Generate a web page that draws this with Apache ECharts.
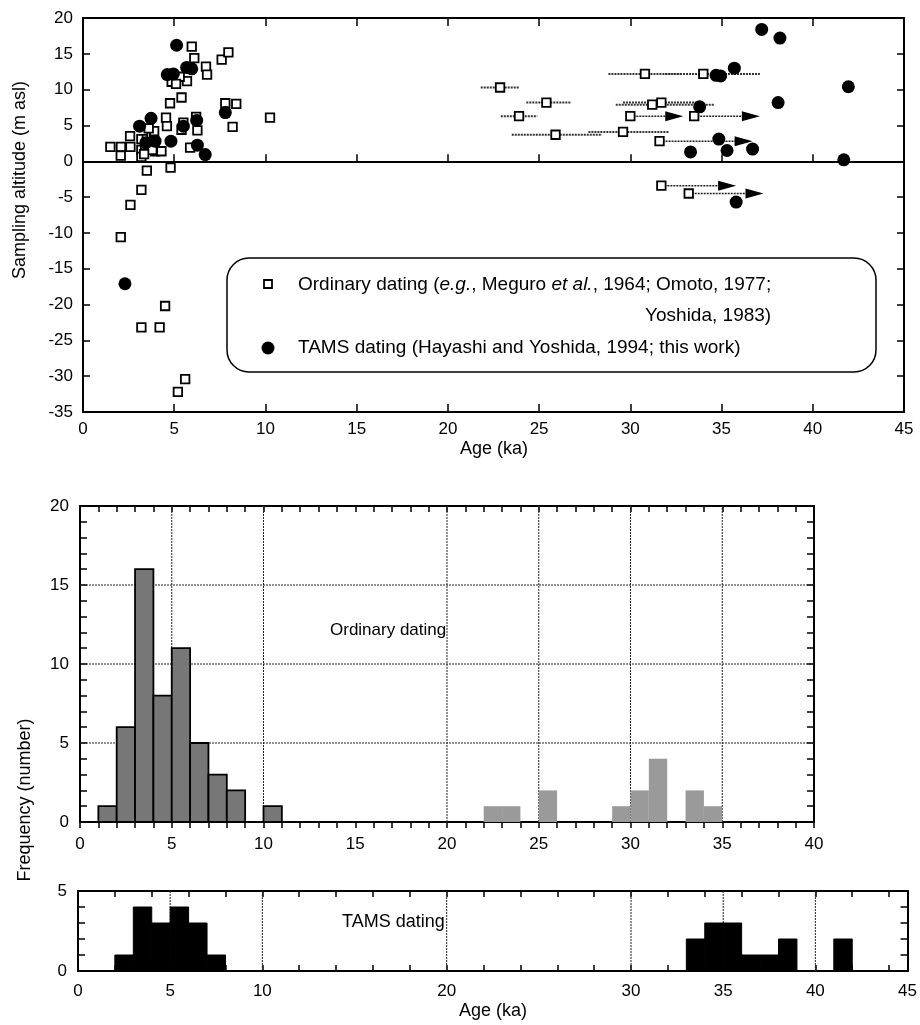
<!DOCTYPE html>
<html><head><meta charset="utf-8">
<script src="https://cdn.jsdelivr.net/npm/echarts@6/dist/echarts.min.js"></script>
<style>html,body{margin:0;padding:0;background:#fff}#c{width:920px;height:1025px}</style>
</head><body><div id="c"></div>
<script>
const FONT = '"Liberation Sans", Arial, Helvetica, sans-serif';

// ---------- Top panel: sampling altitude vs age ----------
const ordinaryAge = [1.5,2.08,2.07,2.6,2.58,2.6,2.07,
  3.2,3.5,3.76,3.9,3.2,3.2,3.67,3.5,3.2,3.2,3.9,3.95,3.4,3.6,3.8,3.35,
  4.3,4.55,4.6,4.77,4.86,4.8,4.5,4.2,
  5.96,5.4,5.7,5.4,5.87,5.6,5.2,5.3,5.5,5.8,5.1,
  6.1,6.74,6.8,6.2,6.27, 7.6,7.97,7.8, 8.4,8.2, 10.25,
  22.86,25.4,23.9,25.9,29.6,30.8,34.0,31.2,31.7,30.0,33.5,31.6,31.7,33.2];
const ordinaryAlt = [2.0,2.0,0.8,2.0,3.5,-6.1,-10.6,
  3.1,3.1,3.8,2.8,1.6,0.6,1.9,-1.3,-4.0,-23.2,4.2,1.4,2.3,4.6,1.6,1.0,
  1.4,6.1,4.9,8.1,11.1,-0.9,-20.2,-23.2,
  16.0,8.9,11.2,4.4,1.9,-30.4,-32.2,11.8,5.4,13.0,10.8,
  14.4,13.2,12.1,6.2,4.3, 14.2,15.2,8.1, 8.0,4.8, 6.1,
  10.3,8.2,6.3,3.7,4.1,12.2,12.2,7.9,8.2,6.3,6.3,2.8,-3.4,-4.5];

// age ranges (horizontal error bars) of ordinary dates
const rangeAge = [22.86,25.4,23.9,25.9,29.6,30.8,34.0,31.2,31.7];
const rangeAlt = [10.3,8.2,6.3,3.7,4.1,12.2,12.2,7.9,8.2];
const rangeLo  = [21.8,24.3,22.9,23.5,27.7,28.8,31.9,29.2,29.6];
const rangeHi  = [23.9,26.75,24.9,28.45,32.1,32.8,37.1,34.6,34.0];

// lower-limit ages (arrows) of ordinary dates
const limitAge = [30.0,33.5,31.6,31.7,33.2];
const limitAlt = [6.3,6.3,2.8,-3.4,-4.5];
const limitEnd = [32.9,37.1,36.7,35.8,37.3];

const tamsAge = [2.3,3.73,3.1,3.95,3.45,4.62,4.82,4.95,5.13,5.68,5.96,5.5,6.23,6.27,6.7,7.8,
  37.2,38.2,35.7,34.95,34.7,41.95,38.1,33.8,34.85,33.3,35.3,36.7,41.7,35.8];
const tamsAlt = [-17.1,6.0,4.9,2.8,2.6,12.1,2.8,12.2,16.2,13.1,12.9,4.9,5.7,2.25,0.94,6.8,
  18.4,17.2,13.0,11.9,12.0,10.4,8.2,7.6,3.1,1.3,1.5,1.7,0.2,-5.7];

const topXTicks = [0,5,10,15,20,25,30,35,40,45];
const topYTicks = [20,15,10,5,0,-5,-10,-15,-20,-25,-30,-35];

// ---------- Histograms (bin i = [i, i+1) ka) ----------
const ordinaryCounts = [0,1,6,16,8,11,5,3,2,0, 1,0,0,0,0,0,0,0,0,0,
                        0,0,1,1,0,2,0,0,0,1, 2,4,0,2,1,0,0,0,0,0];
const tamsCounts = [0,0,1,4,3,4,3,1,0,0, 0,0,0,0,0,0,0,0,0,0,
                    0,0,0,0,0,0,0,0,0,0, 0,0,0,2,3,3,1,1,2,0, 0,2,0,0,0];
const midXLabels = [0,5,10,15,20,25,30,35,40];
const midYLabels = [0,5,10,15,20];
const midGridX = [5,10,20,25,30,35];
const midGridY = [5,10,15];
const botXLabels = [0,5,10,20,30,35,40,45];
const botYLabels = [0,5];
const botGridX = [5,10,20,30,35,40];

// ---------- helpers ----------
function range(a,b,s){const r=[];for(let v=a;v<=b+1e-9;v+=s)r.push(v);return r;}
const lineS = {color:'#000', width:2};
const tickS = {color:'#000', width:1.5};
const lab = (m)=>({show:true, color:'#000', fontSize:17, fontFamily:FONT, margin:m});

function xAx(grid, pos, min, max, opt){
  return Object.assign({type:'value', gridIndex:grid, position:pos, min:min, max:max,
    axisLine:{show:true, onZero:false, lineStyle:lineS},
    axisTick:{show:true, inside:true, length:7, lineStyle:tickS},
    axisLabel:{show:false}, splitLine:{show:false}}, opt||{});
}
function yAx(grid, pos, min, max, opt){
  return Object.assign({type:'value', gridIndex:grid, position:pos, min:min, max:max,
    axisLine:{show:true, onZero:false, lineStyle:lineS},
    axisTick:{show:true, inside:true, length:7, lineStyle:tickS},
    axisLabel:{show:false}, splitLine:{show:false}}, opt||{});
}

function histItem(params, api, fill, stroke, lw){
  const a = api.value(0), c = api.value(1);
  const p0 = api.coord([a, c]), p1 = api.coord([a+1, 0]);
  return {type:'rect', shape:{x:p0[0], y:p0[1], width:p1[0]-p0[0], height:p1[1]-p0[1]},
    style:{fill:fill, stroke:stroke, lineWidth:lw}};
}
const gridLineStyle = {stroke:'#222', lineWidth:1, lineDash:[2,1]};
function vline(params, api){
  const p0 = api.coord([api.value(0), api.value(1)]), p1 = api.coord([api.value(0), api.value(2)]);
  return {type:'line', shape:{x1:p0[0],y1:p0[1],x2:p1[0],y2:p1[1]}, style:gridLineStyle};
}
function hline(params, api){
  const p0 = api.coord([api.value(1), api.value(0)]), p1 = api.coord([api.value(2), api.value(0)]);
  return {type:'line', shape:{x1:p0[0],y1:p0[1],x2:p1[0],y2:p1[1]}, style:gridLineStyle};
}

const ordinaryHist = ordinaryCounts.map((c,i)=>[i,c]).filter(d=>d[1]>0);
const tamsHist = tamsCounts.map((c,i)=>[i,c]).filter(d=>d[1]>0);

// legend text layout: right-align second line with the end of the first line
const LFS = 19;
const mctx = document.createElement('canvas').getContext('2d');
mctx.font = LFS + 'px ' + FONT;
const w1 = mctx.measureText('Ordinary dating (, Meguro , 1964; Omoto, 1977;').width;
mctx.font = 'italic ' + LFS + 'px ' + FONT;
const w2 = mctx.measureText('e.g.et al.').width;
const legendTextX = 298;
const line1End = legendTextX + w1 + w2;

const option = {
  animation:false,
  backgroundColor:'#fff',
  grid:[
    {left:83, top:18, width:821, height:394},
    {left:80, top:506, width:734, height:316},
    {left:78, top:891, width:830, height:80}
  ],
  xAxis:[
    xAx(0,'bottom',0,45,{interval:5, axisLabel:lab(9), axisTick:{show:true,inside:true,length:8,lineStyle:tickS,customValues:topXTicks}}),
    xAx(0,'top',0,45,{interval:5, axisTick:{show:true,inside:true,length:8,lineStyle:tickS,customValues:topXTicks}}),
    xAx(0,'bottom',0,45,{interval:5, axisLine:{show:true,onZero:true,onZeroAxisIndex:0,lineStyle:lineS},
        axisTick:{show:true,inside:true,length:7,lineStyle:tickS,customValues:topXTicks}}),
    xAx(1,'bottom',0,40,{interval:5, axisLabel:Object.assign(lab(14),{customValues:midXLabels}),
        axisTick:{show:true,inside:false,length:6,lineStyle:tickS,customValues:range(0,40,1)}}),
    xAx(1,'top',0,40,{interval:5, axisTick:{show:true,inside:true,length:6,lineStyle:tickS,customValues:range(0,40,1)}}),
    xAx(2,'bottom',0,45,{interval:5, axisLabel:Object.assign(lab(12),{customValues:botXLabels}),
        axisTick:{show:true,inside:true,length:6,lineStyle:tickS,customValues:range(0,44,2)}}),
    xAx(2,'top',0,45,{interval:5, axisTick:{show:true,inside:true,length:6,lineStyle:tickS,customValues:range(0,44,2)}})
  ],
  yAxis:[
    yAx(0,'left',-35,20,{interval:5, axisLabel:Object.assign(lab(10),{customValues:topYTicks}),
        axisTick:{show:true,inside:true,length:7,lineStyle:tickS,customValues:topYTicks}}),
    yAx(0,'right',-35,20,{interval:5, axisTick:{show:true,inside:true,length:7,lineStyle:tickS,customValues:topYTicks}}),
    yAx(1,'left',0,20,{interval:5, axisLabel:Object.assign(lab(11),{customValues:midYLabels}),
        axisTick:{show:true,inside:true,length:7,lineStyle:tickS,customValues:range(0,20,1)}}),
    yAx(1,'right',0,20,{interval:5, axisTick:{show:true,inside:true,length:7,lineStyle:tickS,customValues:range(0,20,1)}}),
    yAx(2,'left',0,5,{interval:5, axisLabel:Object.assign(lab(11),{customValues:botYLabels}),
        axisTick:{show:true,inside:true,length:7,lineStyle:tickS,customValues:range(0,5,1)}}),
    yAx(2,'right',0,5,{interval:5, axisTick:{show:true,inside:true,length:7,lineStyle:tickS,customValues:range(0,5,1)}})
  ],
  series:[
    {type:'custom', xAxisIndex:0, yAxisIndex:0, z:2,
      data: rangeAge.map((a,i)=>[a, rangeAlt[i], rangeLo[i], rangeHi[i]]),
      encode:{x:[0,2,3], y:1},
      renderItem:(params, api)=>{
        const p1 = api.coord([api.value(2), api.value(1)]);
        const p2 = api.coord([api.value(3), api.value(1)]);
        return {type:'line', shape:{x1:p1[0],y1:p1[1],x2:p2[0],y2:p2[1]},
          style:{stroke:'#333', lineWidth:2, lineDash:[2,1]}};
      }},
    {type:'custom', xAxisIndex:0, yAxisIndex:0, z:2,
      data: limitAge.map((a,i)=>[a, limitAlt[i], limitEnd[i]]),
      encode:{x:[0,2], y:1},
      renderItem:(params, api)=>{
        const p1 = api.coord([api.value(0), api.value(1)]);
        const p2 = api.coord([api.value(2), api.value(1)]);
        const hl = 18, hw = 5;
        return {type:'group', children:[
          {type:'line', shape:{x1:p1[0],y1:p1[1],x2:p2[0]-hl+2,y2:p2[1]},
            style:{stroke:'#222', lineWidth:1.5, lineDash:[2,1]}},
          {type:'polygon', shape:{points:[[p2[0],p2[1]],[p2[0]-hl,p2[1]-hw],[p2[0]-hl,p2[1]+hw]]},
            style:{fill:'#000'}}
        ]};
      }},
    {type:'scatter', xAxisIndex:0, yAxisIndex:0, z:3,
      data: ordinaryAge.map((a,i)=>[a, ordinaryAlt[i]]),
      symbol:'rect', symbolSize:8.5,
      itemStyle:{color:'#fff', borderColor:'#000', borderWidth:1.8, opacity:1}},
    {type:'scatter', xAxisIndex:0, yAxisIndex:0, z:4,
      data: tamsAge.map((a,i)=>[a, tamsAlt[i]]),
      symbol:'circle', symbolSize:13,
      itemStyle:{color:'#000', opacity:1}},
    {type:'custom', xAxisIndex:3, yAxisIndex:2, z:1,
      data: midGridX.map(x=>[x,0,20]), encode:{x:0,y:[1,2]}, renderItem:vline},
    {type:'custom', xAxisIndex:3, yAxisIndex:2, z:1,
      data: midGridY.map(y=>[y,0,40]), encode:{y:0,x:[1,2]}, renderItem:hline},
    {type:'custom', xAxisIndex:3, yAxisIndex:2, z:2,
      data: ordinaryHist, encode:{x:0,y:1},
      renderItem:(p,api)=> api.value(0) < 20 ? histItem(p,api,'#777','#000',1.8) : histItem(p,api,'#9a9a9a',null,0)},
    {type:'custom', xAxisIndex:5, yAxisIndex:4, z:1,
      data: botGridX.map(x=>[x,0,5]), encode:{x:0,y:[1,2]}, renderItem:vline},
    {type:'custom', xAxisIndex:5, yAxisIndex:4, z:2,
      data: tamsHist, encode:{x:0,y:1},
      renderItem:(p,api)=> histItem(p,api,'#000','#000',1)}
  ],
  graphic:[
    {type:'rect', shape:{x:227, y:258, width:649, height:114, r:22}, z:10,
      style:{fill:'#fff', stroke:'#000', lineWidth:1.5}},
    {type:'rect', shape:{x:264, y:280, width:8, height:8}, z:11,
      style:{fill:'#fff', stroke:'#000', lineWidth:1.8}},
    {type:'circle', shape:{cx:268, cy:348, r:6.5}, z:11, style:{fill:'#000'}},
    {type:'text', x:legendTextX, y:285, z:11, style:{
      text:'Ordinary dating ({i|e.g.}, Meguro {i|et al.}, 1964; Omoto, 1977;',
      rich:{i:{fontStyle:'italic', fontSize:LFS, fontFamily:FONT, fill:'#000'}},
      fontSize:LFS, fontFamily:FONT, fill:'#000', verticalAlign:'middle', textVerticalAlign:'middle'}},
    {type:'text', x:line1End, y:316, z:11, style:{text:'Yoshida, 1983)', fontSize:LFS, fontFamily:FONT, fill:'#000',
      align:'right', textAlign:'right', verticalAlign:'middle', textVerticalAlign:'middle'}},
    {type:'text', x:legendTextX, y:348, z:11, style:{text:'TAMS dating (Hayashi and Yoshida, 1994; this work)',
      fontSize:LFS, fontFamily:FONT, fill:'#000', verticalAlign:'middle', textVerticalAlign:'middle'}},
    {type:'text', x:20, y:180, rotation:Math.PI/2, style:{text:'Sampling altitude (m asl)', fontSize:18, fontFamily:FONT,
      fill:'#000', align:'center', textAlign:'center', verticalAlign:'middle', textVerticalAlign:'middle'}},
    {type:'text', x:494, y:449, style:{text:'Age (ka)', fontSize:18, fontFamily:FONT,
      fill:'#000', align:'center', textAlign:'center', verticalAlign:'middle', textVerticalAlign:'middle'}},
    {type:'text', x:330, y:630, style:{text:'Ordinary dating', fontSize:17, fontFamily:FONT,
      fill:'#000', verticalAlign:'middle', textVerticalAlign:'middle'}},
    {type:'text', x:25, y:800, rotation:Math.PI/2, style:{text:'Frequency (number)', fontSize:18, fontFamily:FONT,
      fill:'#000', align:'center', textAlign:'center', verticalAlign:'middle', textVerticalAlign:'middle'}},
    {type:'text', x:342, y:922, style:{text:'TAMS dating', fontSize:18, fontFamily:FONT,
      fill:'#000', verticalAlign:'middle', textVerticalAlign:'middle'}},
    {type:'text', x:493, y:1011, style:{text:'Age (ka)', fontSize:18, fontFamily:FONT,
      fill:'#000', align:'center', textAlign:'center', verticalAlign:'middle', textVerticalAlign:'middle'}}
  ]
};
const chart = echarts.init(document.getElementById('c'));
chart.setOption(option);
</script></body></html>
